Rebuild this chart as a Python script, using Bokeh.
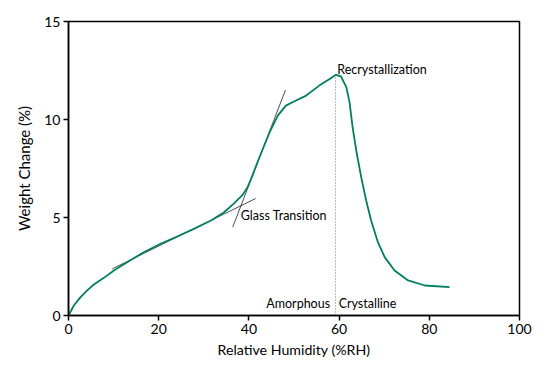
from bokeh.plotting import figure
from bokeh.models import Range1d, FixedTicker, Label
from bokeh.embed import file_html
from bokeh.resources import INLINE

# Sorption curve (x: %RH, y: weight change %)
rh = [0, 1.19, 2.67, 4.15, 5.63, 7.85, 10.07, 13.0, 16.7, 20.4, 24.1, 27.8,
      31.6, 34.5, 36.7, 38.6, 39.7, 40.4, 42.3, 44.5, 46.4, 48.2, 50.1, 52.7,
      55.6, 57.9, 59.3, 60.4, 61.6, 62.3, 63.0, 63.8, 64.9, 66.0, 67.1, 68.6,
      70.1, 72.3, 75.3, 79.0, 84.5]
wc = [0, 0.51, 0.94, 1.28, 1.58, 1.92, 2.30, 2.72, 3.23, 3.66, 4.03, 4.42,
      4.85, 5.27, 5.72, 6.15, 6.55, 6.92, 8.05, 9.3, 10.2, 10.71, 10.93, 11.22,
      11.73, 12.07, 12.28, 12.2, 11.65, 10.9, 9.6, 8.42, 7.06, 5.87, 4.85, 3.74,
      2.98, 2.30, 1.79, 1.53, 1.45]

# tangent lines
tan1_x = [9.7, 41.5]
tan1_y = [2.38, 5.97]
tan2_x = [36.4, 48.1]
tan2_y = [4.5, 11.5]

divide_x = [59.2, 59.2]
divide_y = [0, 12.3]

x_ticks = [0, 20, 40, 60, 80, 100]
y_ticks = [0, 5, 10, 15]

FONT = "Lato"

p = figure(width=558, height=376, output_backend="svg", toolbar_location=None,
           x_range=Range1d(0, 100), y_range=Range1d(0, 15),
           min_border_left=68, min_border_right=39, min_border_top=21, min_border_bottom=61)
p.background_fill_color = "white"
p.border_fill_color = "white"
p.outline_line_color = "black"
p.outline_line_width = 1.5
p.grid.visible = False

for ax in (p.xaxis[0], p.yaxis[0]):
    ax.axis_line_color = "black"
    ax.axis_line_width = 1.5
    ax.major_tick_line_color = "black"
    ax.major_tick_line_width = 1.5
    ax.major_tick_out = 5
    ax.major_tick_in = 0
    ax.minor_tick_line_color = None
    ax.major_label_text_font = FONT
    ax.major_label_text_font_size = "14px"
    ax.major_label_text_color = "black"
    ax.axis_label_text_font = FONT
    ax.axis_label_text_font_style = "normal"
    ax.axis_label_text_color = "black"

p.xaxis.axis_label_text_font_size = "14.2px"
p.yaxis.axis_label_text_font_size = "15px"
p.xaxis.ticker = FixedTicker(ticks=x_ticks)
p.yaxis.ticker = FixedTicker(ticks=y_ticks)
p.xaxis.axis_label = "Relative Humidity (%RH)"
p.yaxis.axis_label = "Weight Change (%)"
p.xaxis.major_label_standoff = 3
p.yaxis.major_label_standoff = 3
p.xaxis.axis_label_standoff = 4
p.yaxis.axis_label_standoff = 8

p.line(divide_x, divide_y, line_color="#777777", line_width=1, line_dash="1 2")
p.line(tan1_x, tan1_y, line_color="#222222", line_width=0.8)
p.line(tan2_x, tan2_y, line_color="#222222", line_width=0.8)
p.line(rh, wc, line_color="#007f5f", line_width=1.8, line_join="round")

def lab(x, y, t, align="left"):
    p.add_layout(Label(x=x, y=y, text=t, text_font=FONT, text_font_size="12.5px",
                       text_color="black", text_align=align, text_baseline="middle"))

lab(59.6, 12.55, "Recrystallization")
lab(38.2, 5.1, "Glass Transition")
lab(58.0, 0.6, "Amorphous", "right")
lab(59.9, 0.6, "Crystalline")

open("out.html", "w").write(file_html(p, INLINE))
